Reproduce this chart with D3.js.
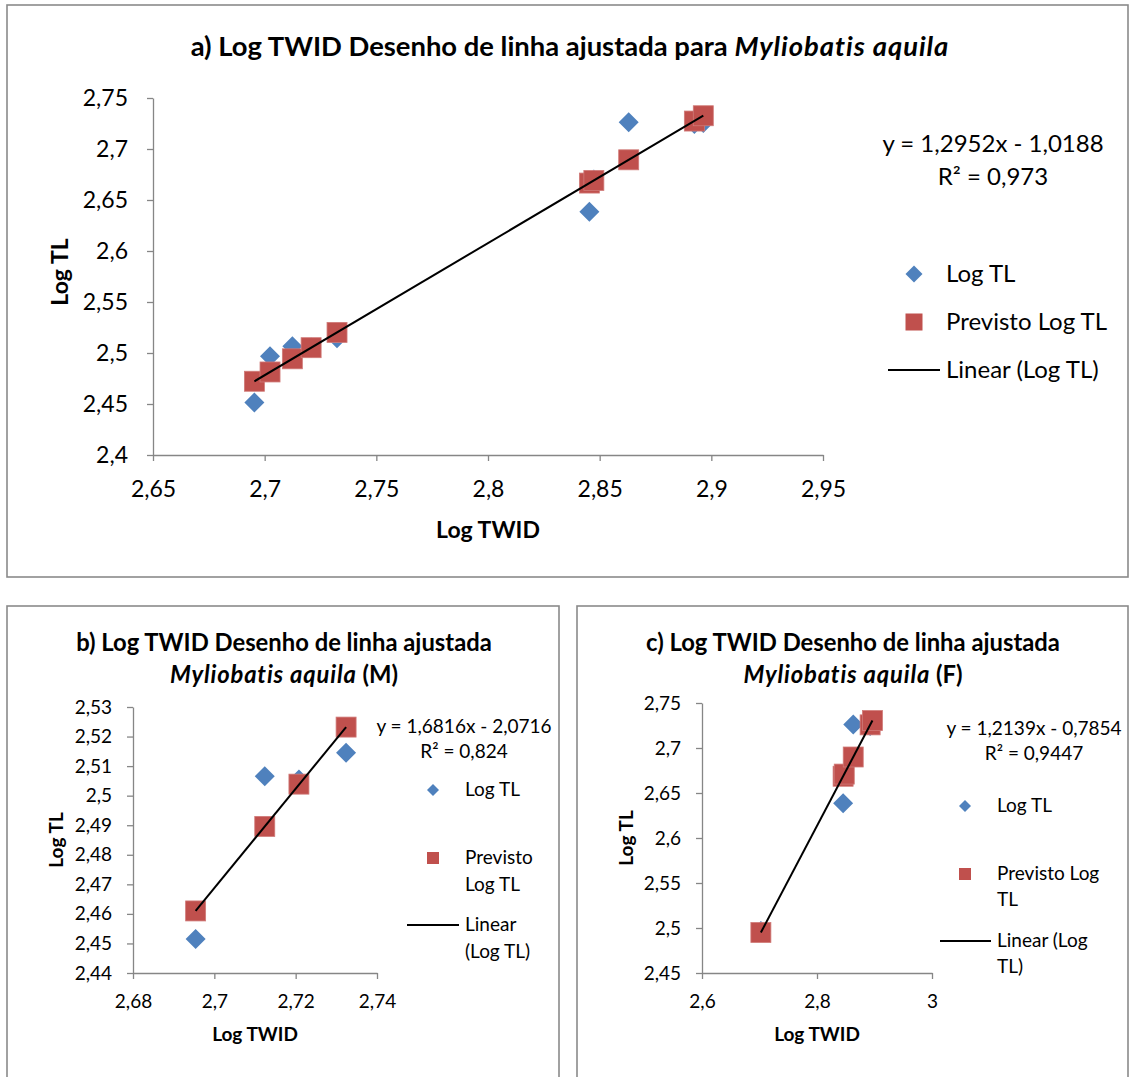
<!DOCTYPE html>
<html>
<head>
<meta charset="utf-8">
<title>Log TWID - Myliobatis aquila</title>
<script src="https://cdn.jsdelivr.net/npm/d3@7"></script>
<style>
    html, body {
        margin: 0;
        padding: 0;
        background: #fff;
    }
    svg {
        display: block;
        font-family: Lato, "Open Sans", sans-serif;
    }
</style>
</head>
<body>
<svg id="chart" width="1130" height="1077"></svg>
<script>
// Log TWID (x) and Log TL (y) for males (M) and females (F)
const twidM = [2.6954, 2.7124, 2.7208, 2.7324];
const logTlM = [2.4515, 2.5066, 2.5055, 2.5145];
const twidF = [2.7024, 2.8454, 2.8474, 2.8630, 2.8924, 2.8964];
const logTlF = [2.4967, 2.6385, 2.6700, 2.7262, 2.7245, 2.7255];

// "Previsto Log TL"
const prevAll = [2.4723, 2.4943, 2.5052, 2.5202, 2.4814, 2.6666, 2.6692, 2.6894, 2.7274, 2.7326];
const prevM = [2.4610, 2.4896, 2.5039, 2.5232];
const prevF = [2.4950, 2.6686, 2.6710, 2.6900, 2.7257, 2.7305];

// trendline labels: a, b, c
const slopes = [1.2952, 1.6816, 1.2139];
const intercepts = [-1.0188, -2.0716, -0.7854];
const rSquared = [0.973, 0.824, 0.9447];

// axis ticks
const xTicksA = [2.65, 2.7, 2.75, 2.8, 2.85, 2.9, 2.95];
const yTicksA = [2.4, 2.45, 2.5, 2.55, 2.6, 2.65, 2.7, 2.75];
const xTicksB = [2.68, 2.7, 2.72, 2.74];
const yTicksB = [2.44, 2.45, 2.46, 2.47, 2.48, 2.49, 2.5, 2.51, 2.52, 2.53];
const xTicksC = [2.6, 2.8, 3];
const yTicksC = [2.45, 2.5, 2.55, 2.6, 2.65, 2.7, 2.75];

const BLUE = "#4F81BD", RED = "#C0504D", AXIS = "#868686", FRAME = "#8a8a8a";

const svg = d3.select("#chart");

// comma decimals like the original
const fmt = v => String(+v.toFixed(4)).replace(".", ",");

function diamond(r) {
    return `M0,${-r}L${r},0L0,${r}L${-r},0Z`;
}

function panel(p) {
    const g = svg.append("g");

    g.append("rect")
        .attr("x", p.frame[0]).attr("y", p.frame[1])
        .attr("width", p.frame[2]).attr("height", p.frame[3])
        .attr("fill", "#fff")
        .attr("stroke", FRAME)
        .attr("stroke-width", 1.6);

    const x = d3.scaleLinear().domain(d3.extent(p.xTicks)).range([p.left, p.right]);
    const y = d3.scaleLinear().domain(d3.extent(p.yTicks)).range([p.bottom, p.top]);

    const xAxis = g.append("g")
        .attr("transform", `translate(0,${p.bottom})`)
        .call(d3.axisBottom(x).tickValues(p.xTicks).tickFormat(fmt)
            .tickSize(6).tickSizeOuter(0).tickPadding(p.xPad));
    const yAxis = g.append("g")
        .attr("transform", `translate(${p.left},0)`)
        .call(d3.axisLeft(y).tickValues(p.yTicks).tickFormat(fmt)
            .tickSize(6).tickSizeOuter(0).tickPadding(p.yPad));

    [xAxis, yAxis].forEach(a => {
        a.attr("font-family", null).attr("font-size", null);
        a.select(".domain").attr("stroke", AXIS).attr("stroke-width", 1.3);
        a.selectAll(".tick line").attr("stroke", AXIS).attr("stroke-width", 1.3);
        a.selectAll(".tick text").attr("fill", "#000").style("font-size", p.tickFs + "px");
    });

    // observed Log TL (diamonds), drawn first
    g.append("g").selectAll("path")
        .data(d3.zip(p.xs, p.ys))
        .join("path")
        .attr("d", diamond(10))
        .attr("transform", d => `translate(${x(d[0])},${y(d[1])})`)
        .attr("fill", BLUE);

    // predicted (squares) on top
    g.append("g").selectAll("rect")
        .data(d3.zip(p.xs, p.prev))
        .join("rect")
        .attr("x", d => x(d[0]) - 10)
        .attr("y", d => y(d[1]) - 10)
        .attr("width", 20).attr("height", 20)
        .attr("fill", RED)
        .attr("stroke", "#d07a78")
        .attr("stroke-width", 0.8);

    // linear trendline over the data range
    const ext = d3.extent(p.xs);
    g.append("path")
        .datum(ext.map(v => [v, p.slope * v + p.intercept]))
        .attr("d", d3.line().x(d => x(d[0])).y(d => y(d[1])))
        .attr("stroke", "#000")
        .attr("stroke-width", 2)
        .attr("fill", "none");

    // chart title (lines of [text, italic] pieces)
    p.title.forEach((line, i) => {
        const t = g.append("text")
            .attr("x", p.titleX).attr("y", p.titleY[i])
            .attr("text-anchor", "middle")
            .attr("font-weight", "bold")
            .style("font-size", p.titleFs + "px");
        line.forEach(piece => {
            const s = t.append("tspan").text(piece[0]);
            if (piece[1]) s.attr("font-style", "italic").attr("letter-spacing", "0.035em");
        });
    });

    // axis titles
    g.append("text")
        .attr("x", x((p.xTicks[0] + p.xTicks[p.xTicks.length - 1]) / 2))
        .attr("y", p.xTitleY)
        .attr("text-anchor", "middle")
        .attr("font-weight", "bold")
        .style("font-size", p.axFs + "px")
        .text("Log TWID");
    g.append("text")
        .attr("transform", `translate(${p.yTitleX},${p.yTitleY}) rotate(-90)`)
        .attr("text-anchor", "middle")
        .attr("font-weight", "bold")
        .style("font-size", p.axFs + "px")
        .text("Log TL");

    // regression equation
    const eq = `y = ${fmt(p.slope)}x ${p.intercept < 0 ? "-" : "+"} ${fmt(Math.abs(p.intercept))}`;
    g.append("text")
        .attr("x", p.eqX).attr("y", p.eqY[0])
        .attr("text-anchor", "middle")
        .style("font-size", p.fs + "px")
        .text(eq);
    g.append("text")
        .attr("x", p.eqX).attr("y", p.eqY[1])
        .attr("text-anchor", "middle")
        .style("font-size", p.fs + "px")
        .text(`R² = ${fmt(p.r2)}`);

    // legend
    const L = p.legend;
    g.append("path")
        .attr("d", diamond(L.mk / 2))
        .attr("transform", `translate(${L.mx},${L.my[0]})`)
        .attr("fill", BLUE);
    g.append("rect")
        .attr("x", L.mx - L.mk / 2).attr("y", L.my[1] - L.mk / 2)
        .attr("width", L.mk).attr("height", L.mk)
        .attr("fill", RED);
    g.append("line")
        .attr("x1", L.lx[0]).attr("x2", L.lx[1])
        .attr("y1", L.my[2]).attr("y2", L.my[2])
        .attr("stroke", "#000").attr("stroke-width", 2);
    L.labels.forEach((lines, i) => {
        lines.forEach((s, j) => {
            g.append("text")
                .attr("x", L.tx)
                .attr("y", L.ty[i] + j * L.lh)
                .style("font-size", p.fs + "px")
                .text(s);
        });
    });
}

// a) all fish
panel({
    frame: [7, 5, 1121, 572],
    left: 153, right: 823, top: 98, bottom: 455,
    xTicks: xTicksA, yTicks: yTicksA, xPad: 20, yPad: 19,
    xs: twidM.concat(twidF), ys: logTlM.concat(logTlF), prev: prevAll,
    slope: slopes[0], intercept: intercepts[0], r2: rSquared[0],
    tickFs: 23, fs: 24, axFs: 23, titleFs: 27.4,
    title: [[["a) Log TWID Desenho de linha ajustada para ", false], ["Myliobatis aquila", true]]],
    titleX: 570, titleY: [56],
    xTitleY: 538, yTitleX: 68, yTitleY: 272,
    eqX: 993, eqY: [152, 185],
    legend: {
        mx: 914, my: [274, 322, 370], mk: 17, lx: [888, 940],
        tx: 946, ty: [282, 330, 378], lh: 0,
        labels: [["Log TL"], ["Previsto Log TL"], ["Linear (Log TL)"]]
    }
});

// b) males
panel({
    frame: [7, 606, 552, 480],
    left: 133, right: 377, top: 707, bottom: 973,
    xTicks: xTicksB, yTicks: yTicksB, xPad: 16, yPad: 15,
    xs: twidM, ys: logTlM, prev: prevM,
    slope: slopes[1], intercept: intercepts[1], r2: rSquared[1],
    tickFs: 19, fs: 19, axFs: 19, titleFs: 23.8,
    title: [[["b) Log TWID Desenho de linha ajustada", false]],
            [["Myliobatis aquila", true], [" (M)", false]]],
    titleX: 284, titleY: [651, 683],
    xTitleY: 1041, yTitleX: 63, yTitleY: 840,
    eqX: 464, eqY: [733, 758],
    legend: {
        mx: 433, my: [790, 858, 925], mk: 12, lx: [407, 459],
        tx: 465, ty: [796, 864, 931], lh: 27,
        labels: [["Log TL"], ["Previsto", "Log TL"], ["Linear", "(Log TL)"]]
    }
});

// c) females
panel({
    frame: [577, 606, 551, 480],
    left: 702, right: 932, top: 703, bottom: 973,
    xTicks: xTicksC, yTicks: yTicksC, xPad: 16, yPad: 15,
    xs: twidF, ys: logTlF, prev: prevF,
    slope: slopes[2], intercept: intercepts[2], r2: rSquared[2],
    tickFs: 19, fs: 19, axFs: 19, titleFs: 23.8,
    title: [[["c) Log TWID Desenho de linha ajustada", false]],
            [["Myliobatis aquila", true], [" (F)", false]]],
    titleX: 853, titleY: [651, 683],
    xTitleY: 1041, yTitleX: 633, yTitleY: 838,
    eqX: 1034, eqY: [735, 760],
    legend: {
        mx: 965, my: [806, 874, 941], mk: 12, lx: [940, 991],
        tx: 997, ty: [812, 880, 947], lh: 26,
        labels: [["Log TL"], ["Previsto Log", "TL"], ["Linear (Log", "TL)"]]
    }
});
</script>
</body>
</html>
